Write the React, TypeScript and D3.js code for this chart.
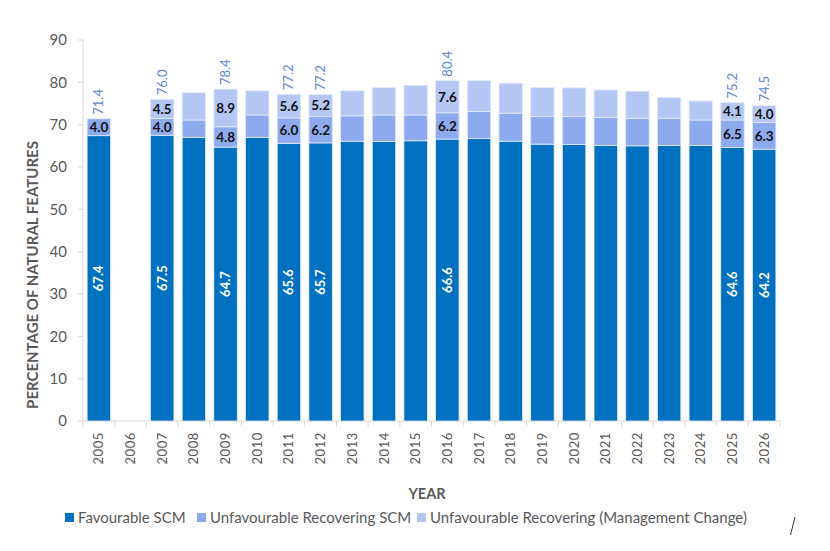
import React from "react";
import * as d3 from "d3";

// chart data
const years = [
  "2005", "2006", "2007", "2008", "2009", "2010", "2011", "2012", "2013", "2014", "2015",
  "2016", "2017", "2018", "2019", "2020", "2021", "2022", "2023", "2024", "2025", "2026",
];
const favourable = [
  67.4, 0, 67.5, 67.0, 64.7, 67.0, 65.6, 65.7, 66.1, 66.0, 66.2,
  66.6, 66.7, 66.1, 65.4, 65.3, 65.1, 65.0, 65.1, 65.1, 64.6, 64.2,
];
const recovering = [
  4.0, 0, 4.0, 4.1, 4.8, 5.3, 6.0, 6.2, 6.0, 6.3, 6.1,
  6.2, 6.4, 6.6, 6.5, 6.6, 6.6, 6.5, 6.4, 6.0, 6.5, 6.3,
];
const mgmtChange = [
  0, 0, 4.5, 6.5, 8.9, 5.7, 5.6, 5.2, 5.9, 6.5, 7.0,
  7.6, 7.3, 7.1, 6.9, 6.8, 6.5, 6.4, 4.9, 4.5, 4.1, 4.0,
];
// totals shown above the bars (only some years carry labels)
const totalLabels: Record<string, string> = {
  "2005": "71.4", "2007": "76.0", "2009": "78.4", "2011": "77.2", "2012": "77.2",
  "2016": "80.4", "2025": "75.2", "2026": "74.5",
};
const labelledYears = ["2005", "2007", "2009", "2011", "2012", "2016", "2025", "2026"];
const yTicks = [0, 10, 20, 30, 40, 50, 60, 70, 80, 90];

const seriesNames = [
  "Favourable SCM",
  "Unfavourable Recovering SCM",
  "Unfavourable Recovering (Management Change)",
];
const colors = ["#0070c0", "#8eaaee", "#b4c7f4"];

const W = 830;
const H = 551;
const margin = { left: 83, right: 50, top: 40, bottom: 130 };
const FONT = "Lato, 'Open Sans', sans-serif";
const GREY = "#595959";

export default function App() {
  const x = d3
    .scaleBand<string>()
    .domain(years)
    .range([margin.left, W - margin.right])
    .paddingInner(0.26)
    .paddingOuter(0.13);
  const y = d3.scaleLinear().domain([0, 90]).range([H - margin.bottom, margin.top]);

  const rows = years.map((yr, i) => ({
    year: yr,
    fav: favourable[i],
    rec: recovering[i],
    mgmt: mgmtChange[i],
  }));
  const stack = d3.stack<any>().keys(["fav", "rec", "mgmt"]);
  const layers = stack(rows);

  const step = x.step();
  const x0 = margin.left;
  const x1 = W - margin.right;
  const baseY = y(0);

  return (
    <div style={{ position: "absolute", left: 0, top: 0 }}>
      <svg width={W} height={H} style={{ display: "block", background: "#fff" }} fontFamily={FONT}>
        {/* y axis */}
        <line x1={x0} x2={x0} y1={y(90)} y2={baseY} stroke="#d9d9d9" />
        {yTicks.map((t) => (
          <g key={t}>
            <line x1={x0 - 5} x2={x0} y1={y(t)} y2={y(t)} stroke="#d9d9d9" />
            <text x={67} y={y(t)} dy="0.35em" textAnchor="end" fontSize={15} fill={GREY}>
              {t}
            </text>
          </g>
        ))}
        {/* x axis */}
        <line x1={x0} x2={x1} y1={baseY} y2={baseY} stroke="#d9d9d9" />
        {d3.range(years.length + 1).map((k) => (
          <line
            key={k}
            x1={x0 + k * step}
            x2={x0 + k * step}
            y1={baseY}
            y2={baseY + 6}
            stroke="#d9d9d9"
          />
        ))}
        {years.map((yr) => {
          const cx = (x(yr) as number) + x.bandwidth() / 2;
          return (
            <text
              key={yr}
              transform={`translate(${cx},${baseY + 11}) rotate(-90)`}
              textAnchor="end"
              dy="0.35em"
              fontSize={13}
              fill={GREY}
              letterSpacing={0.6}
            >
              {yr}
            </text>
          );
        })}

        {/* bars */}
        {layers.map((layer, li) => (
          <g key={li} fill={colors[li]}>
            {layer.map((d, i) => {
              const h = y(d[0]) - y(d[1]);
              if (h <= 0) return null;
              return (
                <rect
                  key={i}
                  x={x(years[i])}
                  y={y(d[1])}
                  width={x.bandwidth()}
                  height={h}
                  stroke="#e3eafb"
                  strokeWidth={0.8}
                />
              );
            })}
          </g>
        ))}

        {/* value labels */}
        {labelledYears.map((yr) => {
          const i = years.indexOf(yr);
          const cx = (x(yr) as number) + x.bandwidth() / 2;
          const f = favourable[i];
          const r = recovering[i];
          const m = mgmtChange[i];
          const top = f + r + m;
          return (
            <g key={yr} fontWeight="bold">
              <text
                transform={`translate(${cx},${y(f / 2)}) rotate(-90)`}
                textAnchor="middle"
                dy="0.35em"
                fontSize={13}
                fill="#fff"
              >
                {f.toFixed(1)}
              </text>
              <text x={cx} y={y(f + r / 2)} dy="0.36em" textAnchor="middle" fontSize={13.5} fill="#111">
                {r.toFixed(1)}
              </text>
              {m > 0 && (
                <text x={cx} y={y(f + r + m / 2)} dy="0.36em" textAnchor="middle" fontSize={13.5} fill="#111">
                  {m.toFixed(1)}
                </text>
              )}
              <text
                transform={`translate(${cx},${y(top) - 4}) rotate(-90)`}
                textAnchor="start"
                dy="0.35em"
                fontSize={13}
                fontWeight="normal"
                fill="#5a87dc"
              >
                {totalLabels[yr]}
              </text>
            </g>
          );
        })}

        {/* axis titles */}
        <text
          transform={`translate(33,275) rotate(-90)`}
          textAnchor="middle"
          dy="0.35em"
          fontSize={15}
          fontWeight="bold"
          fill={GREY}
        >
          PERCENTAGE OF NATURAL FEATURES
        </text>
        <text x={427} y={494} dy="0.35em" textAnchor="middle" fontSize={14.5} fontWeight="bold" fill={GREY}>
          YEAR
        </text>

        {/* legend */}
        {seriesNames.map((name, i) => {
          const lx = [65, 197, 417][i];
          return (
            <g key={name}>
              <rect x={lx} y={513} width={9} height={9} fill={colors[i]} />
              <text x={lx + 13} y={517.5} dy="0.35em" fontSize={15} fill={GREY}>
                {name}
              </text>
            </g>
          );
        })}

        <line x1={790.5} y1={535} x2={795} y2={517} stroke="#333" strokeWidth={1} />
      </svg>
    </div>
  );
}
